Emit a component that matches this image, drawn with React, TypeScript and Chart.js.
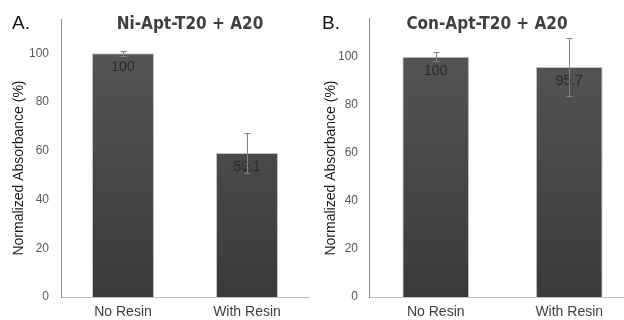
import React, { useEffect, useRef } from 'react';
import { Chart, registerables } from 'chart.js';

Chart.register(...registerables);

const categories = ['No Resin', 'With Resin'];
const yTickValues = [0, 20, 40, 60, 80, 100];

const niTitle = 'Ni-Apt-T20 + A20';
const niValues = [100, 59.1];
const niErrors = [1.0, 8.1];

const conTitle = 'Con-Apt-T20 + A20';
const conValues = [100, 95.7];
const conErrors = [1.8, 12.0];

const yAxisTitle = 'Normalized Absorbance (%)';

const SANS = '"Liberation Sans", Arial, sans-serif';
const TITLE_FONT = 'bold 17px "DejaVu Sans Condensed", "Liberation Sans", sans-serif';

Chart.defaults.font.family = SANS;

const decorPlugin = {
  id: 'panelDecor',
  afterDatasetsDraw(chart: any, _args: any, opts: any) {
    const ctx = chart.ctx as CanvasRenderingContext2D;
    const meta = chart.getDatasetMeta(0);
    const ds = chart.data.datasets[0];
    const y = chart.scales.y;
    ctx.save();
    // value labels
    ctx.fillStyle = '#2b2b2b';
    ctx.font = '14px ' + SANS;
    ctx.textAlign = 'center';
    ctx.textBaseline = 'middle';
    meta.data.forEach((bar: any, i: number) => {
      ctx.fillText(String(ds.data[i]), bar.x, bar.y + 14);
    });
    // error bars
    ctx.strokeStyle = '#808080';
    ctx.lineWidth = 1;
    meta.data.forEach((bar: any, i: number) => {
      const v = ds.data[i];
      const e = opts.errors[i];
      const x = Math.round(bar.x) + 0.5;
      const yt = Math.round(y.getPixelForValue(v + e)) + 0.5;
      const yb = Math.round(y.getPixelForValue(v - e)) + 0.5;
      ctx.beginPath();
      ctx.moveTo(x, yt);
      ctx.lineTo(x, yb);
      ctx.moveTo(x - 3, yt);
      ctx.lineTo(x + 3, yt);
      ctx.moveTo(x - 3, yb);
      ctx.lineTo(x + 3, yb);
      ctx.stroke();
    });
    // panel letter
    ctx.textAlign = 'left';
    ctx.textBaseline = 'alphabetic';
    ctx.fillStyle = '#111111';
    ctx.font = '19px ' + SANS;
    ctx.fillText(opts.letter, opts.letterX, 29);
    // title
    ctx.textAlign = 'center';
    ctx.fillStyle = '#404040';
    ctx.font = TITLE_FONT;
    ctx.fillText(opts.title, opts.titleX, 29);
    // y axis title
    ctx.save();
    ctx.translate(opts.yTitleX, 168);
    ctx.rotate(-Math.PI / 2);
    ctx.textAlign = 'center';
    ctx.textBaseline = 'middle';
    ctx.fillStyle = '#1a1a1a';
    ctx.font = '14px ' + SANS;
    ctx.fillText(yAxisTitle, 0, 0);
    ctx.restore();
    ctx.restore();
  },
};

const barFill = (c: any) => {
  const chart = c.chart;
  const a = chart.chartArea;
  if (!a) return '#454545';
  const g = chart.ctx.createLinearGradient(0, a.top, 0, a.bottom);
  g.addColorStop(0, '#585858');
  g.addColorStop(1, '#3a3a3a');
  return g;
};

function makeConfig(values: number[], errors: number[], p: any) {
  return {
    type: 'bar' as const,
    data: {
      labels: categories,
      datasets: [
        {
          data: values,
          backgroundColor: barFill,
          borderColor: '#c4c4c4',
          borderWidth: 1,
          barPercentage: 0.5,
          categoryPercentage: 1,
        },
      ],
    },
    options: {
      responsive: false,
      animation: false as const,
      layout: { padding: { top: 16, right: p.padRight, left: 0, bottom: 0 } },
      plugins: {
        legend: { display: false },
        tooltip: { enabled: false },
        panelDecor: {
          errors,
          letter: p.letter,
          letterX: p.letterX,
          title: p.title,
          titleX: p.titleX,
          yTitleX: p.yTitleX,
        },
      },
      scales: {
        x: {
          grid: { display: false, drawTicks: false },
          border: { display: true, color: '#c0c0c0', width: 1 },
          ticks: { color: '#404040', font: { size: 14 }, padding: 7 },
          afterFit: (s: any) => {
            s.height = 23;
          },
        },
        y: {
          min: 0,
          max: p.yMax,
          afterBuildTicks: (s: any) => {
            s.ticks = yTickValues.map((v) => ({ value: v }));
          },
          grid: { display: false, drawTicks: false },
          border: { display: true, color: '#8c8c8c', width: 1 },
          ticks: { color: '#595959', font: { size: 12 }, padding: p.tickPad },
          afterFit: (s: any) => {
            s.width = p.axisWidth;
          },
        },
      },
    },
    plugins: [decorPlugin],
  };
}

function Panel(props: { values: number[]; errors: number[]; p: any; left: number; width: number }) {
  const ref = useRef<HTMLCanvasElement>(null);
  useEffect(() => {
    if (!ref.current) return;
    const chart = new Chart(ref.current, makeConfig(props.values, props.errors, props.p) as any);
    return () => chart.destroy();
  }, []);
  return (
    <div style={{ position: 'absolute', left: props.left, top: 0, width: props.width, height: 320 }}>
      <canvas ref={ref} width={props.width} height={320} style={{ display: 'block' }} />
    </div>
  );
}

export default function App() {
  return (
    <div
      style={{
        position: 'fixed',
        left: 0,
        top: 0,
        width: 624,
        height: 320,
        overflow: 'hidden',
        background: '#ffffff',
      }}
    >
      <Panel
        values={niValues}
        errors={niErrors}
        left={0}
        width={312}
        p={{
          padRight: 3,
          yMax: 114,
          axisWidth: 61,
          tickPad: 12,
          letter: 'A.',
          letterX: 12,
          title: niTitle,
          titleX: 190,
          yTitleX: 19,
        }}
      />
      <Panel
        values={conValues}
        errors={conErrors}
        left={312}
        width={330}
        p={{
          padRight: 6,
          yMax: 116,
          axisWidth: 57,
          tickPad: 11,
          letter: 'B.',
          letterX: 10,
          title: conTitle,
          titleX: 175,
          yTitleX: 19,
        }}
      />
    </div>
  );
}
